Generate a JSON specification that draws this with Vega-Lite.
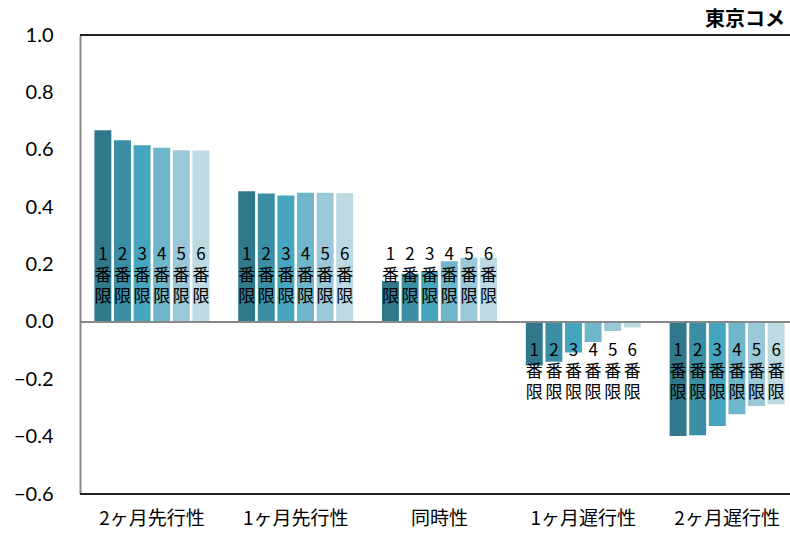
{
  "$schema": "https://vega.github.io/schema/vega-lite/v6.json",
  "autosize": {"type": "none"},
  "width": 719,
  "height": 459,
  "padding": {"left": 80, "top": 35, "right": 0, "bottom": 40},
  "background": "white",
  "config": {"view": {"stroke": null}},
  "title": {"text": "東京コメ", "anchor": "start", "frame": "group", "dx": 625, "offset": -21, "baseline": "alphabetic", "fontSize": 20, "fontWeight": "bold", "font": "Noto Sans CJK JP", "color": "black"},
  "data": {"values": [
    {"group": "2ヶ月先行性", "contract": "1番限", "value": 0.671, "label": "1\n番\n限"},
    {"group": "2ヶ月先行性", "contract": "2番限", "value": 0.636, "label": "2\n番\n限"},
    {"group": "2ヶ月先行性", "contract": "3番限", "value": 0.618, "label": "3\n番\n限"},
    {"group": "2ヶ月先行性", "contract": "4番限", "value": 0.610, "label": "4\n番\n限"},
    {"group": "2ヶ月先行性", "contract": "5番限", "value": 0.601, "label": "5\n番\n限"},
    {"group": "2ヶ月先行性", "contract": "6番限", "value": 0.600, "label": "6\n番\n限"},
    {"group": "1ヶ月先行性", "contract": "1番限", "value": 0.458, "label": "1\n番\n限"},
    {"group": "1ヶ月先行性", "contract": "2番限", "value": 0.450, "label": "2\n番\n限"},
    {"group": "1ヶ月先行性", "contract": "3番限", "value": 0.443, "label": "3\n番\n限"},
    {"group": "1ヶ月先行性", "contract": "4番限", "value": 0.453, "label": "4\n番\n限"},
    {"group": "1ヶ月先行性", "contract": "5番限", "value": 0.453, "label": "5\n番\n限"},
    {"group": "1ヶ月先行性", "contract": "6番限", "value": 0.452, "label": "6\n番\n限"},
    {"group": "同時性", "contract": "1番限", "value": 0.144, "label": "1\n番\n限"},
    {"group": "同時性", "contract": "2番限", "value": 0.170, "label": "2\n番\n限"},
    {"group": "同時性", "contract": "3番限", "value": 0.179, "label": "3\n番\n限"},
    {"group": "同時性", "contract": "4番限", "value": 0.214, "label": "4\n番\n限"},
    {"group": "同時性", "contract": "5番限", "value": 0.226, "label": "5\n番\n限"},
    {"group": "同時性", "contract": "6番限", "value": 0.227, "label": "6\n番\n限"},
    {"group": "1ヶ月遅行性", "contract": "1番限", "value": -0.155, "label": "1\n番\n限"},
    {"group": "1ヶ月遅行性", "contract": "2番限", "value": -0.142, "label": "2\n番\n限"},
    {"group": "1ヶ月遅行性", "contract": "3番限", "value": -0.109, "label": "3\n番\n限"},
    {"group": "1ヶ月遅行性", "contract": "4番限", "value": -0.073, "label": "4\n番\n限"},
    {"group": "1ヶ月遅行性", "contract": "5番限", "value": -0.034, "label": "5\n番\n限"},
    {"group": "1ヶ月遅行性", "contract": "6番限", "value": -0.022, "label": "6\n番\n限"},
    {"group": "2ヶ月遅行性", "contract": "1番限", "value": -0.400, "label": "1\n番\n限"},
    {"group": "2ヶ月遅行性", "contract": "2番限", "value": -0.398, "label": "2\n番\n限"},
    {"group": "2ヶ月遅行性", "contract": "3番限", "value": -0.366, "label": "3\n番\n限"},
    {"group": "2ヶ月遅行性", "contract": "4番限", "value": -0.325, "label": "4\n番\n限"},
    {"group": "2ヶ月遅行性", "contract": "5番限", "value": -0.296, "label": "5\n番\n限"},
    {"group": "2ヶ月遅行性", "contract": "6番限", "value": -0.290, "label": "6\n番\n限"}
  ]},
  "encoding": {
    "x": {"field": "group", "type": "nominal", "sort": null,
      "scale": {"paddingInner": 0.19, "paddingOuter": 0.095},
      "axis": {"title": null, "domain": false, "ticks": false, "labelAngle": 0, "labelFontSize": 19, "labelFont": "Noto Sans CJK JP", "labelColor": "black", "labelPadding": 15}},
    "xOffset": {"field": "contract", "type": "nominal", "sort": null, "scale": {"paddingInner": 0.06}}
  },
  "layer": [
    {
      "mark": {"type": "bar", "stroke": "white", "strokeWidth": 1.5},
      "encoding": {
        "y": {"field": "value", "type": "quantitative",
          "scale": {"domain": [-0.6, 1.0], "nice": false, "zero": true},
          "axis": {"title": null, "values": [-0.6, -0.4, -0.2, 0, 0.2, 0.4, 0.6, 0.8, 1.0], "format": ".1f", "grid": false, "ticks": false, "domainColor": "#888888", "domainWidth": 2, "labelFontSize": 20, "labelFont": "Lato", "labelColor": "black", "labelPadding": 27}},
        "color": {"field": "contract", "type": "nominal", "sort": null, "legend": null,
          "scale": {"range": ["#31788C", "#3A8FA5", "#47A6BF", "#70B6CB", "#9AC8D8", "#BDDAE3"]}}
      }
    },
    {
      "transform": [{"filter": "datum.value > 0"}],
      "mark": {"type": "text", "baseline": "top", "fontSize": 17, "lineHeight": 21, "font": "Noto Sans CJK JP", "color": "black", "lineBreak": "\n"},
      "encoding": {"y": {"datum": 0.262}, "text": {"field": "label"}}
    },
    {
      "transform": [{"filter": "datum.value < 0"}],
      "mark": {"type": "text", "baseline": "top", "fontSize": 17, "lineHeight": 21, "font": "Noto Sans CJK JP", "color": "black", "lineBreak": "\n"},
      "encoding": {"y": {"datum": -0.073}, "text": {"field": "label"}}
    },
    {
      "mark": {"type": "rule", "color": "#888888", "strokeWidth": 2},
      "encoding": {"y": {"datum": 0}, "x": null, "xOffset": null}
    },
    {
      "mark": {"type": "rule", "color": "#222222", "strokeWidth": 2},
      "encoding": {"y": {"datum": 1.0}, "x": null, "xOffset": null}
    },
    {
      "mark": {"type": "rule", "color": "#222222", "strokeWidth": 2},
      "encoding": {"y": {"datum": -0.6}, "x": null, "xOffset": null}
    }
  ]
}
